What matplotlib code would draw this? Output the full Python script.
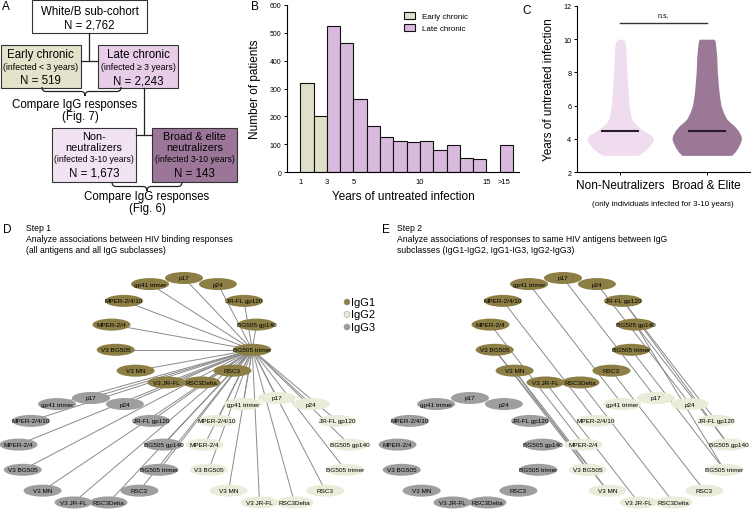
import matplotlib
matplotlib.use("Agg")
import matplotlib.pyplot as plt
import numpy as np
from matplotlib.patches import Rectangle, Ellipse, PathPatch
from matplotlib.path import Path

plt.rcParams["font.family"] = ["Liberation Sans", "DejaVu Sans"]

# ---------------- data ----------------
# A: cohort flow
cohort_total = "2,762"
early_n = "519"
late_n = "2,243"
nonneut_n = "1,673"
broad_n = "143"

# B: histogram of years of untreated infection (last bin = ">15")
bin_left = [1, 2, 3, 4, 5, 6, 7, 8, 9, 10, 11, 12, 13, 14, 16]
patient_counts = [318, 200, 525, 462, 263, 167, 125, 113, 108, 110, 80, 96, 49, 45, 96]
n_early_bins = 2
b_ticks = [1, 3, 5, 10, 15, 16.35]
b_ticklabels = ["1", "3", "5", "10", "15", ">15"]

# C: violin outlines (relative half-width at each year level)
violin_y = [3.0, 3.2, 3.5, 3.8, 4.0, 4.2, 4.5, 4.8, 5.0, 5.2, 5.6, 6.0, 6.5, 7.0, 8.0, 9.0, 9.6, 9.9, 10.0]
nonneut_width = [0.52, 0.70, 0.86, 0.97, 1.00, 0.95, 0.70, 0.50, 0.40, 0.34, 0.30, 0.27, 0.25, 0.23, 0.20, 0.18, 0.16, 0.13, 0.06]
broad_width = [0.75, 0.85, 0.95, 1.02, 1.05, 1.03, 0.95, 0.82, 0.70, 0.60, 0.50, 0.43, 0.39, 0.36, 0.32, 0.30, 0.27, 0.25, 0.22]
median_years = [4.5, 4.5]
c_groups = ["Non-Neutralizers", "Broad & Elite"]

# D/E: networks
antigens = ["p17", "p24", "JR-FL gp120", "BG505 gp140", "BG505 trimer", "RSC3", "RSC3Delta",
            "V3 JR-FL", "V3 MN", "V3 BG505", "MPER-2/4", "MPER-2/4/10", "gp41 trimer"]
subclasses = ["IgG1", "IgG2", "IgG3"]
step1_hub = ("IgG1", "BG505 trimer")
# step 2: IgG1 antigen -> IgG2 antigen
step2_edges = [("p17", "p17"), ("p24", "p24"), ("gp41 trimer", "gp41 trimer"),
               ("MPER-2/4/10", "MPER-2/4/10"), ("MPER-2/4", "MPER-2/4"),
               ("V3 BG505", "V3 BG505"), ("V3 BG505", "V3 MN"),
               ("V3 MN", "V3 MN"), ("V3 MN", "V3 BG505"),
               ("V3 JR-FL", "V3 JR-FL"), ("RSC3Delta", "RSC3Delta"), ("RSC3", "RSC3"),
               ("BG505 trimer", "BG505 trimer"), ("BG505 gp140", "BG505 gp140"),
               ("BG505 gp140", "BG505 trimer"), ("JR-FL gp120", "JR-FL gp120"),
               ("JR-FL gp120", "BG505 gp140")]

# ---------------- styles ----------------
C_EARLY = "#e3e3cb"
C_LATE = "#e8cde8"
C_NON = "#f1e3f1"
C_BROAD = "#9b7698"
C_HIST_EARLY = "#e0e0c8"
C_HIST_LATE = "#dab9de"
C_VIO_NON = "#f0dcef"
C_VIO_BROAD = "#9a7896"
NODE_COL = {"IgG1": "#8c7e44", "IgG2": "#e9ecd8", "IgG3": "#9e9e9e"}
EDGE_COL = "#8a8a8a"

fig = plt.figure(figsize=(7.51, 5.10), dpi=100)

# overlay in pixel coordinates for A, D, E
ov = fig.add_axes([0, 0, 1, 1])
ov.set_xlim(0, 751)
ov.set_ylim(510, 0)
ov.axis("off")


def box(x0, y0, x1, y1, fc):
    ov.add_patch(Rectangle((x0, y0), x1 - x0, y1 - y0, fc=fc, ec="#333333", lw=0.8))


def txt(x, y, s, size=8.3, **kw):
    ov.text(x, y, s, fontsize=size, ha=kw.pop("ha", "center"), va=kw.pop("va", "center"), **kw)


def brace(x0, x1, xm, y, h):
    q = 4
    verts = [(x0, y), (x0, y + h / 2), (x0 + q, y + h / 2), (xm - q, y + h / 2),
             (xm, y + h / 2), (xm, y + h),
             (xm, y + h), (xm, y + h / 2), (xm + q, y + h / 2), (x1 - q, y + h / 2),
             (x1, y + h / 2), (x1, y)]
    codes = [Path.MOVETO, Path.CURVE3, Path.CURVE3, Path.LINETO, Path.CURVE3, Path.CURVE3,
             Path.MOVETO, Path.CURVE3, Path.CURVE3, Path.LINETO, Path.CURVE3, Path.CURVE3]
    ov.add_patch(PathPatch(Path(verts, codes), fill=False, ec="#222222", lw=0.9))


# ---- panel A ----
txt(6, 7, "A", size=8.5)
ov.plot([89, 89], [34, 62], color="#222222", lw=0.9)
ov.plot([81, 98], [62, 62], color="#222222", lw=0.9)
ov.plot([144, 144], [89, 136], color="#222222", lw=0.9)
ov.plot([136, 152], [136, 136], color="#222222", lw=0.9)
box(32, 1, 147, 34, "white")
txt(89.5, 12, "White/B sub-cohort")
txt(89.5, 25, f"N = {cohort_total}")
box(0.5, 46, 81, 89, C_EARLY)
txt(40.5, 55, "Early chronic")
txt(40.5, 67, "(infected < 3 years)", size=6.3)
txt(40.5, 81, f"N = {early_n}")
box(98, 46, 178, 89, C_LATE)
txt(138, 55, "Late chronic")
txt(138, 67, "(infected \u2265 3 years)", size=6.3)
txt(138, 81, f"N = {late_n}")
brace(42, 121, 85, 88, 9)
txt(75, 105, "Compare IgG responses")
txt(80, 117, "(Fig. 7)")
box(52, 129, 136, 183, C_NON)
txt(94, 137, "Non-", size=7.8)
txt(94, 148, "neutralizers", size=7.8)
txt(94, 160, "(infected 3-10 years)", size=6.2)
txt(94, 174, f"N = {nonneut_n}")
box(152, 129, 237, 183, C_BROAD)
txt(194.5, 137, "Broad & elite", size=7.8)
txt(194.5, 148, "neutralizers", size=7.8)
txt(194.5, 160, "(infected 3-10 years)", size=6.2)
txt(194.5, 174, f"N = {broad_n}")
brace(112, 182, 147, 183, 9)
txt(147, 197, "Compare IgG responses")
txt(147, 209, "(Fig. 6)")

# ---- panel D / E headers ----
txt(3, 230, "D", size=8.5, ha="left")
txt(26, 229, "Step 1", size=6.2, ha="left")
txt(26, 240, "Analyze associations between HIV binding responses", size=6.2, ha="left")
txt(26, 251, "(all antigens and all IgG subclasses)", size=6.2, ha="left")
txt(382, 230, "E", size=8.5, ha="left")
txt(397, 229, "Step 2", size=6.2, ha="left")
txt(397, 240, "Analyze associations of responses to same HIV antigens between IgG", size=6.2, ha="left")
txt(397, 251, "subclasses (IgG1-IgG2, IgG1-IG3, IgG2-IgG3)", size=6.2, ha="left")

# circular layout of antigens for each subclass
RX, RY = 73, 53
centers_d = {"IgG1": (184, 332), "IgG2": (277, 452), "IgG3": (91, 452)}


def layout(shift):
    pos = {}
    for g in subclasses:
        cx, cy = centers_d[g]
        for k, a in enumerate(antigens):
            th = 2 * np.pi * k / len(antigens)
            pos[(g, a)] = (cx + shift + RX * np.sin(th), cy - RY * np.cos(th))
    return pos


def draw_nodes(pos):
    for (g, a), (x, y) in pos.items():
        ov.add_patch(Ellipse((x, y), 38, 12, fc=NODE_COL[g], ec="none", zorder=3))
        ov.text(x, y, a, fontsize=4.6, ha="center", va="center", zorder=4)


pos_d = layout(0)
hx, hy = pos_d[step1_hub]
for key, (x, y) in pos_d.items():
    if key != step1_hub:
        ov.plot([hx, x], [hy, y], color=EDGE_COL, lw=0.7, zorder=2)
draw_nodes(pos_d)

pos_e = layout(379)
for a1, a2 in step2_edges:
    x1, y1 = pos_e[("IgG1", a1)]
    x2, y2 = pos_e[("IgG2", a2)]
    ov.plot([x1, x2], [y1, y2], color=EDGE_COL, lw=0.7, zorder=2)
draw_nodes(pos_e)

# legend for D
for i, g in enumerate(subclasses):
    ly = 303 + 12.5 * i
    ov.add_patch(Ellipse((347, ly), 6, 6, fc=NODE_COL[g], ec="#999999", lw=0.4, zorder=3))
    txt(351, ly, g, size=8, ha="left")

# ---- panel B ----
axb = fig.add_axes([287 / 751, (510 - 173) / 510, (519 - 287) / 751, (173 - 6) / 510])
colors = [C_HIST_EARLY] * n_early_bins + [C_HIST_LATE] * (len(bin_left) - n_early_bins)
bars = axb.bar(bin_left, patient_counts, width=1, align="edge", color=colors,
               edgecolor="#111111", linewidth=0.8)
axb.set_xlim(0, 17.45)
axb.set_ylim(0, 600)
axb.set_yticks(range(0, 601, 100))
axb.set_xticks(b_ticks)
axb.set_xticklabels(b_ticklabels)
axb.tick_params(axis="y", labelsize=5, length=2.5, width=0.7, pad=1.5)
axb.tick_params(axis="x", labelsize=5.5, length=0, pad=4)
for s in ("top", "right"):
    axb.spines[s].set_visible(False)
for s in ("left", "bottom"):
    axb.spines[s].set_linewidth(0.8)
axb.set_ylabel("Number of patients", fontsize=8.5, labelpad=6)
axb.set_xlabel("Years of untreated infection", fontsize=8.5, labelpad=4)
axb.legend([bars[0], bars[2]], ["Early chronic", "Late chronic"], loc="upper left",
           bbox_to_anchor=(0.49, 0.98), frameon=False, fontsize=5.8,
           handlelength=1.4, handleheight=1.0, borderaxespad=0, labelspacing=0.5)
fig.text(255 / 751, 1 - 7 / 510, "B", fontsize=8.5, ha="center", va="center")

# ---- panel C ----
axc = fig.add_axes([577 / 751, (510 - 173) / 510, (750 - 577) / 751, (173 - 7) / 510])
scale = 0.383
vy = np.array(violin_y)
for xc, w, col in ((0, nonneut_width, C_VIO_NON), (1, broad_width, C_VIO_BROAD)):
    w = np.array(w) * scale
    axc.fill_betweenx(vy, xc - w, xc + w, color=col, lw=0)
for xc, m in enumerate(median_years):
    axc.plot([xc - 0.21, xc + 0.21], [m, m], color="#2a1c2a", lw=1.5)
axc.plot([0, 1], [11, 11], color="#333333", lw=1)
axc.text(0.5, 11.2, "n.s.", fontsize=5, ha="center", va="bottom")
axc.set_xlim(-0.5, 1.5)
axc.set_ylim(2, 12)
axc.set_yticks(range(2, 13, 2))
axc.set_xticks([0, 1])
axc.set_xticklabels(c_groups)
axc.tick_params(axis="y", labelsize=5.2, length=2.5, width=0.7, pad=1.5)
axc.tick_params(axis="x", labelsize=8.5, length=2, width=0.7, pad=3)
for s in ("top", "right"):
    axc.spines[s].set_visible(False)
for s in ("left", "bottom"):
    axc.spines[s].set_linewidth(0.8)
axc.set_ylabel("Years of untreated infection", fontsize=8.5, labelpad=6)
fig.text(527 / 751, 1 - 11 / 510, "C", fontsize=8.5, ha="center", va="center")
fig.text(663 / 751, 1 - 204 / 510, "(only individuals infected for 3-10 years)",
         fontsize=5.8, ha="center", va="center")

fig.savefig("out.png", dpi=100)
